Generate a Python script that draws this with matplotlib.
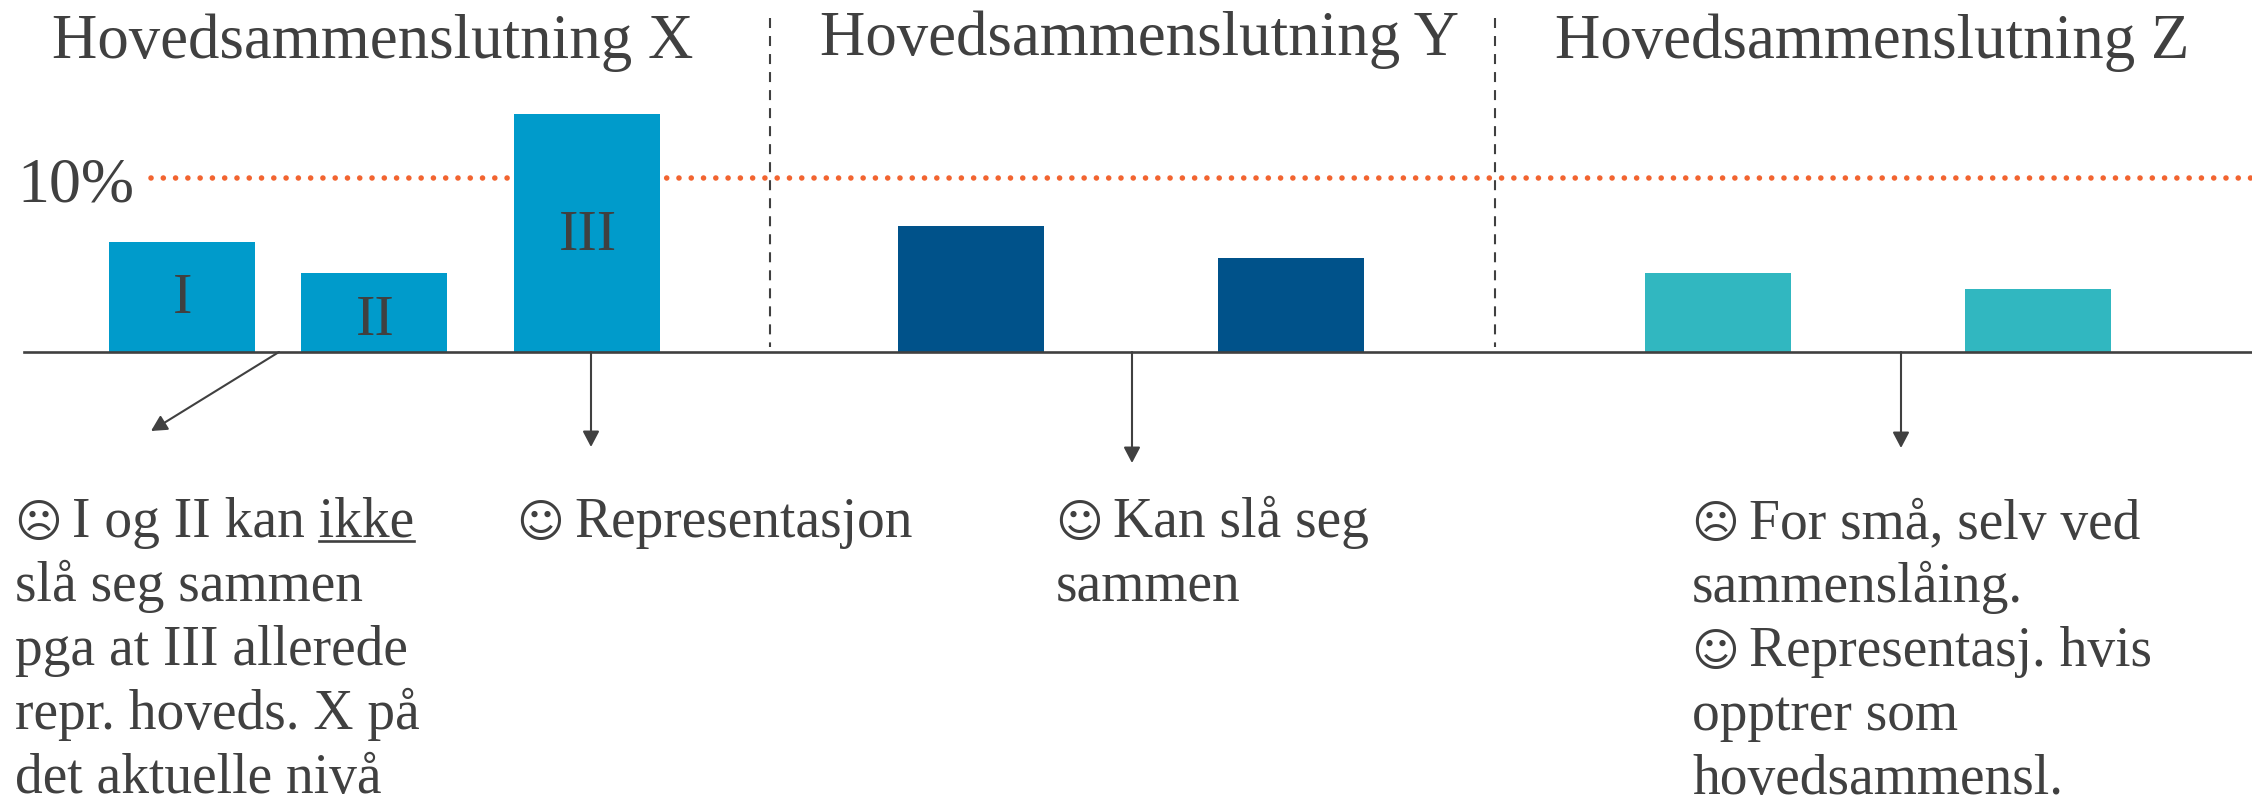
import matplotlib
matplotlib.use("Agg")
import matplotlib.pyplot as plt

W, H = 2252, 796
FONT = 'Liberation Serif'
DARK = '#404040'
SAD, HAPPY = '\u2639', '\u263a'

# bar heights in percent
bar_values = [6.3, 4.5, 13.7, 7.25, 5.4, 4.5, 3.6]
bar_left = [109, 301, 514, 898, 1218, 1645, 1965]
bar_width = 146
bar_colors = ['#009BCB'] * 3 + ['#00528A'] * 2 + ['#31B7C0'] * 2
threshold = 10

# roman labels inside the first three bars: text, centre x, baseline y
roman = [('I', 183, 313), ('II', 375, 335), ('III', 588, 250)]

headers = ['Hovedsammenslutning X', 'Hovedsammenslutning Y', 'Hovedsammenslutning Z']
header_pos = [(52, 58), (820, 55), (1555, 58)]

notes = [
    (15, 537, [SAD + 'I og II kan ikke', 'sl\u00e5 seg sammen', 'pga at III allerede',
               'repr. hoveds. X p\u00e5', 'det aktuelle niv\u00e5']),
    (517, 537, [HAPPY + 'Representasjon']),
    (1056, 537, [HAPPY + 'Kan sl\u00e5 seg', 'sammen']),
    (1692, 538, [SAD + 'For sm\u00e5, selv ved', 'sammensl\u00e5ing.', HAPPY + 'Representasj. hvis',
                 'opptrer som', 'hovedsammensl.']),
]
line_gap = 64
icon_gap = 57
note_size = 40

# arrows (start, end) in pixels
arrows = [((279, 352), (151, 431)), ((591, 352), (591, 447)),
          ((1132, 352), (1132, 463)), ((1901, 352), (1901, 448))]
dividers = [770, 1495]

base_px = 351.5
per_pct = 17.35


def px(x, y):
    return x / W, 1 - y / H


fig = plt.figure(figsize=(W / 100, H / 100), dpi=100, facecolor='white')
ax = fig.add_axes([0, 0, 1, 1])
ax.set_xlim(0, W)
ax.set_ylim(-(H - base_px) / per_pct, base_px / per_pct)
ax.axis('off')

ax.bar(bar_left, bar_values, width=bar_width, align='edge', color=bar_colors, zorder=3)
ax.plot([151, W], [threshold, threshold], color='#F26430', lw=4,
        linestyle=(0, (0.01, 2.2)), dash_capstyle='round', zorder=2)
ax.plot([24, W], [0, 0], color=DARK, lw=1.9, zorder=4)

# dashed dividers, drawn from the top down
for x in dividers:
    ax.plot([x, x], [(base_px - 18) / per_pct, 0.25], color=DARK, lw=1.5,
            linestyle=(0, (4.8, 3.85)), zorder=4)

for s, e in arrows:
    ax.annotate('', xy=px(*e), xytext=px(*s), xycoords='axes fraction',
                textcoords='axes fraction',
                arrowprops=dict(arrowstyle='-|>,head_length=0.95,head_width=0.5',
                                color=DARK, lw=1.5, shrinkA=0, shrinkB=0))


def put(x, y, s, size, family=FONT, ha='left'):
    return ax.text(*px(x, y), s, transform=ax.transAxes, family=family, fontsize=size,
                   color=DARK, va='baseline', ha=ha, zorder=5)


for name, pos in zip(headers, header_pos):
    put(pos[0], pos[1], name, 45.3)

put(17, 202, '10%', 46)

for label, x, y in roman:
    put(x, y, label, 42, ha='center')

for x, y, lines in notes:
    for i, line in enumerate(lines):
        ly = y + i * line_gap
        if line[0] in (SAD, HAPPY):
            put(x - 1, ly, line[0], 33, family='DejaVu Sans')
            put(x + icon_gap, ly, line[1:], note_size)
        else:
            put(x, ly, line, note_size)

# underline for "ikke" in the first note
fig.canvas.draw()
r = fig.canvas.get_renderer()
t1 = put(15 + icon_gap, 537, 'I og II kan ', note_size)
t2 = put(15 + icon_gap, 537, 'I og II kan ikke', note_size)
x0 = t1.get_window_extent(r).x1
x1 = t2.get_window_extent(r).x1
t1.remove()
t2.remove()
ax.plot([x0, x1], [(base_px - 541) / per_pct] * 2, color=DARK, lw=1.9)

fig.savefig('out.png', dpi=100, facecolor='white')
